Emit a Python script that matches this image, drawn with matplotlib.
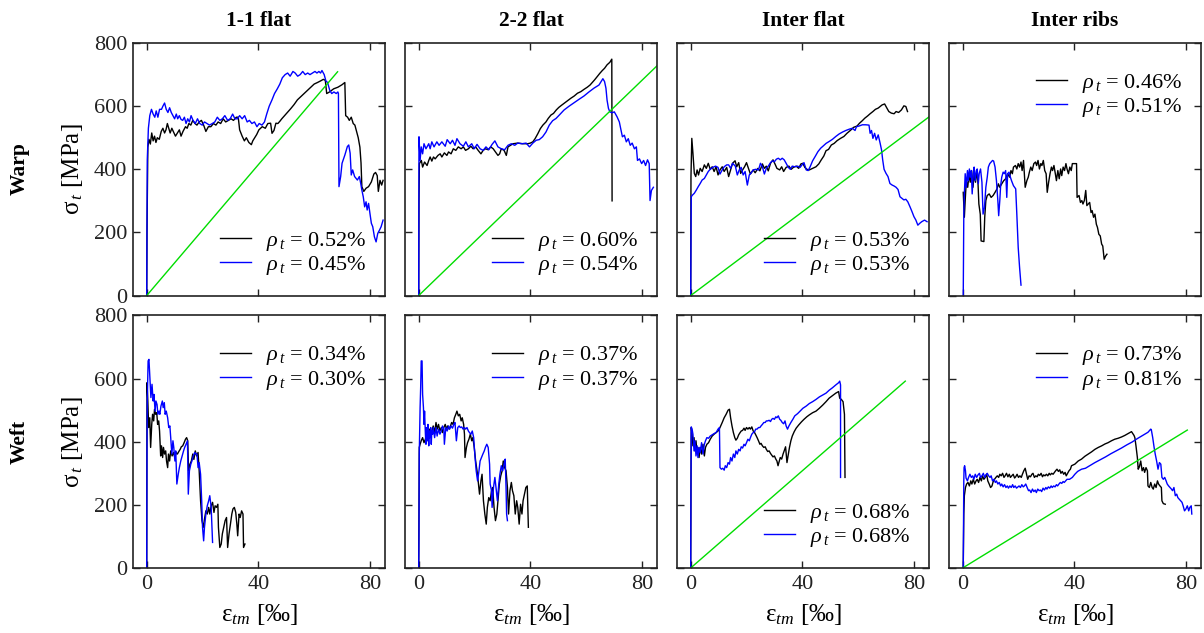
import numpy as np
import matplotlib.pyplot as plt

plt.rcParams['font.family'] = ['Liberation Serif', 'DejaVu Serif']
plt.rcParams['mathtext.fontset'] = 'custom'
plt.rcParams['mathtext.rm'] = 'Liberation Serif'
plt.rcParams['mathtext.it'] = 'Liberation Serif:italic'
plt.rcParams['mathtext.bf'] = 'Liberation Serif:bold'

columns = ['1-1 flat', '2-2 flat', 'Inter flat', 'Inter ribs']
rows = ['Warp', 'Weft']

# reinforcement ratio of each specimen pair (black, blue) in %
rho_warp = [('0.52', '0.45'), ('0.60', '0.54'), ('0.53', '0.53'), ('0.46', '0.51')]
rho_weft = [('0.34', '0.30'), ('0.37', '0.37'), ('0.68', '0.68'), ('0.73', '0.81')]

legend_loc = [['lower right', 'lower right', 'lower right', 'upper right'],
              ['upper right', 'upper right', 'lower right', 'upper right']]

# end point of the green reference line (starts at origin), None = no line
green_warp = [(68.4, 709), (86.0, 733), (86.0, 570), None]
green_weft = [None, None, (76.9, 592), (80.5, 437)]

# strain [permille], stress [MPa]
warp_11_black = [(0, 0), (0.1, 200), (0.4, 470), (0.8, 495), (1.3, 480), (1.8, 515), (2.3, 490), (2.8, 505),
                 (3.3, 485), (3.8, 500), (4.5, 495), (5.2, 520), (5.8, 530), (6.4, 515), (6.9, 525), (7.4, 545),
                 (8.4, 515), (9.0, 530), (10.3, 505), (11.7, 525), (12.3, 505), (13.0, 520), (13.9, 535),
                 (14.5, 530), (15.1, 545), (15.8, 540), (16.5, 555), (17.3, 545), (18.0, 540), (18.8, 550),
                 (19.6, 555), (20.4, 540), (21.2, 520), (22.1, 535), (23.0, 535), (23.9, 545), (24.8, 540),
                 (25.6, 550), (26.5, 545), (27.4, 560), (28.3, 550), (29.3, 555), (30.2, 560), (31.1, 555),
                 (32.1, 565), (32.8, 565), (33.3, 525), (34.2, 505), (35.0, 490), (35.7, 500), (36.6, 485),
                 (37.5, 478), (38.0, 490), (38.7, 500), (39.4, 510), (40.2, 525), (41.4, 535), (42.5, 530),
                 (43.4, 545), (44.4, 546), (44.9, 514), (45.6, 523), (46.3, 546), (47.0, 545), (47.7, 552),
                 (48.4, 560), (49.4, 570), (50.4, 580), (51.6, 592), (52.8, 605), (54.0, 620), (55.2, 630),
                 (56.4, 640), (57.6, 650), (58.8, 660), (60.0, 670), (61.2, 675), (62.3, 680), (63.3, 685),
                 (64.0, 682), (64.5, 640), (65.5, 645), (67.0, 655), (68.5, 660), (70.0, 668), (71.0, 675),
                 (71.3, 570), (72.0, 565), (72.6, 555), (73.3, 565), (74.0, 545), (74.6, 540), (75.2, 520),
                 (75.8, 500), (76.4, 470), (76.8, 420), (77.1, 345), (77.8, 330), (78.6, 340), (79.5, 345),
                 (80.5, 360), (81.4, 385), (82.0, 390), (82.6, 380), (83.0, 330), (83.6, 365), (84.2, 350),
                 (84.7, 365)]
warp_11_blue = [(0, 0), (0.1, 220), (0.2, 430), (0.6, 530), (1.1, 570), (1.7, 590), (2.3, 575), (2.9, 565),
                (3.4, 585), (4.0, 565), (4.6, 590), (5.3, 590), (5.8, 600), (6.4, 610), (7.0, 590), (7.6, 580),
                (8.2, 595), (8.8, 580), (9.4, 570), (10.0, 560), (10.6, 575), (11.1, 560), (11.7, 570),
                (12.3, 558), (12.9, 555), (13.5, 565), (14.1, 545), (14.7, 560), (15.3, 550), (15.9, 570),
                (16.6, 555), (17.4, 545), (18.2, 560), (19.0, 545), (19.9, 540), (20.7, 550), (21.6, 545),
                (22.5, 540), (23.5, 545), (24.4, 550), (25.3, 565), (26.2, 555), (27.1, 560), (28.0, 570),
                (29.0, 555), (29.9, 560), (30.8, 575), (31.6, 560), (32.5, 560), (33.3, 570), (34.2, 560),
                (35.1, 570), (36.0, 550), (36.8, 555), (37.7, 545), (38.6, 550), (39.5, 535), (40.3, 545),
                (41.3, 540), (42.2, 550), (43.0, 575), (43.9, 600), (44.9, 620), (45.8, 640), (46.8, 655),
                (47.7, 670), (48.6, 690), (49.6, 700), (50.5, 705), (51.4, 695), (52.4, 710), (53.2, 705),
                (54.1, 695), (55.0, 700), (55.9, 710), (56.8, 700), (57.7, 705), (58.5, 700), (59.4, 705),
                (60.3, 710), (61.0, 705), (61.7, 710), (62.3, 705), (62.8, 713), (63.6, 700), (64.2, 680),
                (64.8, 675), (65.6, 650), (66.3, 640), (67.1, 645), (67.9, 640), (68.5, 645), (68.7, 640),
                (68.9, 345), (69.5, 377), (70.0, 419), (71.0, 445), (71.9, 472), (72.4, 477), (72.9, 451),
                (73.3, 382), (73.8, 398), (74.5, 377), (75.5, 366), (76.2, 377), (76.7, 355), (77.1, 334),
                (77.6, 313), (78.1, 281), (78.6, 297), (79.0, 271), (79.5, 292), (80.0, 260), (80.5, 229),
                (81.0, 218), (81.6, 186), (82.2, 170), (82.8, 197), (83.4, 207), (84.0, 218), (84.7, 239)]

warp_22_black = [(0, 0), (0.1, 300), (0.24, 418), (0.95, 428), (1.4, 407), (2.1, 423), (3.0, 412), (3.6, 428),
                 (4.1, 439), (4.7, 426), (5.3, 439), (5.9, 433), (6.9, 444), (7.7, 449), (8.3, 439), (9.2, 452),
                 (10.1, 444), (10.7, 455), (11.6, 449), (12.4, 465), (13.3, 460), (14.2, 471), (15.2, 465),
                 (16.0, 471), (16.8, 460), (17.8, 465), (18.7, 473), (19.5, 465), (20.4, 471), (21.3, 460),
                 (22.3, 449), (23.1, 460), (23.9, 465), (24.9, 462), (25.8, 471), (26.7, 465), (27.5, 455),
                 (28.4, 444), (29.0, 449), (29.6, 465), (30.6, 460), (31.4, 444), (32.0, 471), (32.9, 476),
                 (33.8, 481), (35.5, 483), (37.3, 481), (39.1, 481), (40.0, 483), (40.9, 487), (41.7, 497),
                 (42.7, 513), (43.6, 529), (44.5, 540), (45.6, 550), (46.4, 561), (47.4, 572), (48.3, 577),
                 (49.3, 588), (50.2, 596), (51.2, 603), (52.1, 609), (53.3, 617), (54.5, 625), (55.7, 632),
                 (56.9, 641), (58.1, 646), (59.2, 653), (60.4, 660), (61.4, 667), (62.2, 675), (63.0, 683),
                 (64.0, 694), (64.9, 704), (65.8, 713), (66.6, 720), (67.5, 731), (68.5, 739), (69.2, 749),
                 (69.3, 300)]
warp_22_blue = [(0, 0), (0.1, 503), (0.5, 428), (0.9, 471), (1.4, 449), (1.9, 481), (2.6, 465), (3.6, 481),
                (4.1, 465), (4.7, 487), (5.5, 471), (6.5, 487), (7.3, 476), (8.3, 487), (9.5, 473), (10.2, 494),
                (11.3, 481), (12.1, 492), (13.0, 476), (13.7, 497), (14.8, 481), (16.0, 473), (16.9, 487),
                (17.8, 471), (19.0, 481), (19.9, 465), (20.9, 479), (22.0, 465), (23.1, 460), (24.1, 471),
                (25.1, 462), (26.3, 479), (27.3, 490), (28.4, 471), (29.6, 465), (30.8, 462), (32.0, 476),
                (33.2, 481), (34.4, 476), (35.5, 483), (37.0, 481), (38.5, 483), (39.7, 471), (40.9, 483),
                (42.1, 492), (43.2, 494), (44.4, 503), (45.6, 518), (46.8, 540), (48.0, 554), (49.2, 561),
                (50.4, 572), (52.1, 588), (53.9, 600), (55.7, 611), (57.5, 622), (59.2, 632), (61.0, 645),
                (62.8, 657), (64.6, 667), (66.0, 687), (66.6, 678), (67.1, 657), (67.5, 619), (68.0, 593),
                (68.5, 582), (69.3, 579), (70.1, 582), (71.1, 566), (71.9, 550), (72.5, 524), (73.0, 503),
                (73.7, 508), (74.4, 487), (75.1, 497), (75.8, 476), (76.5, 483), (77.3, 465), (78.0, 471),
                (78.4, 428), (79.1, 433), (79.9, 418), (80.6, 428), (81.3, 412), (82.0, 430), (82.6, 418),
                (82.9, 301), (83.4, 333), (84.1, 343)]

warp_if_black = [(0, 0), (0.1, 377), (0.4, 498), (0.8, 451), (1.3, 387), (1.8, 377), (2.3, 398), (2.8, 382),
                 (3.4, 403), (4.1, 393), (4.9, 414), (5.6, 403), (6.3, 419), (7.0, 400), (7.7, 408), (8.4, 393),
                 (9.1, 408), (9.8, 382), (10.5, 398), (11.3, 408), (12.0, 393), (12.9, 406), (13.6, 377),
                 (14.3, 398), (15.0, 419), (15.9, 427), (16.5, 408), (17.2, 421), (17.9, 387), (18.6, 398),
                 (19.3, 408), (20.0, 421), (20.7, 403), (21.4, 385), (22.4, 398), (23.1, 389), (24.1, 403),
                 (24.8, 395), (25.7, 417), (26.4, 403), (27.1, 410), (27.8, 395), (28.6, 419), (29.5, 430),
                 (30.2, 417), (30.9, 403), (31.9, 398), (32.6, 408), (33.3, 393), (34.2, 406), (35.2, 410),
                 (36.0, 400), (36.8, 406), (37.8, 410), (38.7, 403), (39.5, 417), (40.2, 419), (40.9, 406),
                 (41.6, 400), (42.5, 398), (43.7, 403), (44.9, 408), (45.9, 417), (46.8, 430), (47.7, 442),
                 (48.5, 459), (49.4, 463), (50.4, 477), (51.4, 482), (52.5, 491), (53.7, 498), (54.9, 504),
                 (56.0, 514), (57.2, 523), (58.4, 533), (59.6, 537), (60.5, 546), (61.5, 554), (62.4, 562),
                 (63.4, 569), (64.3, 576), (65.3, 583), (66.2, 590), (67.2, 594), (67.9, 599), (68.6, 604),
                 (69.5, 607), (70.3, 594), (71.0, 583), (71.9, 578), (72.9, 576), (73.6, 583), (74.5, 580),
                 (75.5, 588), (76.4, 601), (77.1, 599), (77.7, 583)]
warp_if_blue = [(0, 0), (0.1, 165), (0.2, 313), (0.6, 318), (1.3, 324), (2.0, 334), (2.7, 345), (3.4, 355),
                (4.1, 366), (4.9, 371), (5.6, 382), (6.3, 393), (7.0, 400), (7.9, 406), (8.9, 410), (9.8, 406),
                (10.5, 385), (11.3, 398), (12.0, 408), (12.9, 414), (13.6, 414), (14.3, 403), (15.0, 419),
                (16.0, 410), (16.7, 382), (17.4, 398), (18.1, 406), (18.8, 382), (19.5, 393), (20.3, 350),
                (21.0, 382), (21.7, 389), (22.4, 398), (23.3, 400), (24.3, 398), (25.0, 419), (25.7, 408),
                (26.4, 385), (27.1, 403), (27.8, 410), (28.6, 421), (29.3, 427), (30.0, 424), (30.7, 432),
                (31.4, 435), (32.1, 430), (32.8, 435), (33.5, 430), (34.2, 419), (35.0, 406), (35.7, 400),
                (36.4, 410), (37.3, 408), (38.3, 410), (39.2, 406), (39.9, 414), (40.6, 421), (41.4, 398),
                (42.1, 396), (42.8, 408), (43.7, 427), (44.7, 442), (45.6, 456), (46.6, 467), (47.5, 474),
                (48.5, 482), (49.6, 488), (50.8, 495), (52.0, 504), (53.2, 512), (54.4, 518), (55.6, 523),
                (56.8, 527), (57.9, 530), (58.9, 523), (59.4, 535), (60.3, 537), (61.5, 541), (62.7, 541),
                (63.9, 540), (64.3, 514), (64.8, 523), (65.3, 498), (65.9, 514), (66.5, 493), (67.2, 509),
                (67.9, 482), (68.4, 461), (68.8, 430), (69.3, 400), (70.0, 387), (70.7, 377), (71.4, 355),
                (72.2, 350), (72.9, 347), (73.6, 343), (74.3, 336), (75.0, 313), (75.7, 308), (76.4, 303),
                (77.1, 305), (77.8, 297), (78.6, 281), (79.3, 266), (80.0, 250), (80.7, 239), (81.4, 223),
                (82.1, 229), (82.8, 234), (83.8, 239), (84.7, 234)]

warp_ir_black = [(0.2, 327), (0.6, 248), (0.9, 301), (1.3, 364), (1.8, 343), (2.3, 386), (2.7, 359), (3.2, 396),
                 (3.7, 343), (4.1, 386), (4.6, 359), (5.1, 396), (5.5, 354), (5.8, 290), (6.3, 258), (6.6, 173),
                 (7.6, 171), (7.9, 248), (8.3, 301), (8.8, 317), (9.5, 322), (10.2, 311), (10.9, 317),
                 (11.6, 327), (12.3, 338), (12.8, 354), (13.3, 343), (14.0, 354), (14.7, 364), (15.4, 370),
                 (16.1, 386), (16.8, 375), (17.3, 396), (17.8, 386), (18.2, 407), (18.9, 412), (19.4, 401),
                 (19.9, 418), (20.4, 407), (20.9, 423), (21.3, 396), (21.8, 428), (22.4, 343), (23.0, 364),
                 (23.5, 375), (23.9, 391), (24.4, 407), (24.9, 396), (25.5, 418), (26.1, 423), (26.5, 412),
                 (27.0, 428), (27.5, 401), (28.0, 418), (28.4, 412), (28.9, 428), (29.4, 396), (29.9, 386),
                 (30.3, 327), (30.8, 359), (31.3, 386), (31.8, 407), (32.2, 396), (32.7, 412), (33.2, 386),
                 (33.6, 364), (34.1, 396), (34.6, 370), (35.1, 401), (35.5, 380), (36.0, 407), (36.5, 396),
                 (37.0, 418), (37.4, 401), (37.9, 386), (38.4, 407), (38.9, 396), (39.3, 418), (40.0, 418),
                 (40.8, 418), (41.0, 311), (41.7, 317), (42.2, 295), (42.7, 301), (43.1, 290), (43.6, 301),
                 (44.1, 333), (44.5, 285), (45.0, 290), (45.5, 295), (46.0, 263), (46.4, 269), (46.9, 248),
                 (47.4, 258), (47.9, 226), (48.3, 216), (48.8, 194), (49.3, 189), (49.8, 163), (50.2, 157),
                 (50.7, 115), (51.2, 125), (51.7, 131)]
warp_ir_blue = [(0.2, 0), (0.4, 258), (0.6, 322), (0.9, 386), (1.3, 343), (1.7, 396), (2.0, 364), (2.4, 401),
                (2.7, 375), (3.1, 396), (3.4, 322), (3.8, 386), (4.1, 407), (4.5, 364), (4.9, 396), (5.2, 401),
                (5.6, 354), (5.9, 386), (6.4, 401), (6.9, 359), (7.3, 258), (7.8, 279), (8.3, 343), (8.8, 375),
                (9.2, 407), (9.7, 418), (10.2, 423), (10.7, 428), (11.1, 426), (11.6, 407), (12.1, 364),
                (12.6, 301), (12.9, 253), (13.3, 301), (13.6, 348), (14.0, 375), (14.5, 391), (14.9, 386),
                (15.4, 396), (15.8, 311), (16.1, 386), (16.6, 391), (17.1, 375), (17.5, 364), (18.2, 348),
                (19.0, 338), (19.4, 258), (19.9, 152), (20.4, 88), (20.9, 33)]

weft_11_black = [(0, 0), (0.1, 587), (0.4, 529), (0.7, 445), (1.1, 476), (1.4, 382), (1.8, 455), (2.1, 487),
                 (2.5, 466), (2.8, 503), (3.2, 487), (3.6, 492), (3.9, 455), (4.3, 466), (4.6, 434), (5.0, 355),
                 (5.3, 387), (5.7, 350), (6.0, 382), (6.4, 361), (6.8, 371), (7.1, 339), (7.5, 318), (7.8, 361),
                 (8.2, 339), (8.6, 371), (9.1, 355), (9.6, 366), (10.1, 350), (10.5, 366), (11.0, 361),
                 (11.5, 369), (12.0, 376), (12.4, 384), (12.9, 387), (13.4, 397), (13.9, 408), (14.3, 413),
                 (14.7, 403), (15.0, 308), (15.5, 329), (16.0, 339), (16.5, 361), (16.9, 344), (17.4, 371),
                 (17.9, 355), (18.4, 366), (18.8, 308), (19.3, 213), (19.8, 150), (20.3, 129), (20.7, 155),
                 (21.2, 181), (21.7, 171), (22.2, 192), (22.6, 171), (23.1, 197), (23.6, 208), (24.1, 176),
                 (24.5, 197), (25.0, 192), (25.5, 202), (25.7, 129), (26.2, 65), (26.7, 76), (27.1, 108),
                 (27.6, 129), (28.1, 150), (28.6, 160), (29.0, 65), (29.5, 108), (30.0, 139), (30.5, 171),
                 (30.9, 187), (31.4, 192), (31.9, 176), (32.3, 139), (32.6, 102), (33.1, 171), (33.5, 160),
                 (34.0, 181), (34.5, 171), (34.7, 65), (35.2, 76)]
weft_11_blue = [(0, 0), (0.1, 382), (0.2, 529), (0.5, 656), (0.8, 661), (1.2, 592), (1.5, 540), (1.9, 582),
                (2.3, 529), (2.6, 550), (3.0, 497), (3.3, 529), (3.7, 518), (4.0, 487), (4.4, 497), (4.7, 487),
                (5.1, 513), (5.6, 529), (5.9, 508), (6.3, 524), (6.6, 487), (7.0, 497), (7.5, 476), (7.9, 445),
                (8.3, 450), (8.6, 413), (9.0, 361), (9.4, 403), (9.7, 382), (10.1, 339), (10.4, 371),
                (10.8, 266), (11.3, 297), (11.7, 318), (12.2, 339), (12.7, 355), (13.2, 371), (13.6, 382),
                (14.1, 392), (14.6, 403), (14.9, 234), (15.3, 308), (15.8, 329), (16.2, 339), (16.7, 355),
                (17.2, 366), (17.7, 361), (18.0, 361), (18.4, 318), (18.8, 334), (19.3, 297), (19.7, 213),
                (20.0, 129), (20.4, 86), (20.7, 129), (21.2, 171), (21.7, 197), (22.2, 213), (22.6, 229),
                (23.1, 192), (23.6, 81)]

weft_22_black = [(0, 0), (0.2, 382), (0.5, 392), (0.9, 403), (1.4, 413), (1.9, 397), (2.4, 408), (2.8, 424),
                 (3.3, 413), (3.8, 440), (4.3, 418), (4.7, 434), (5.2, 450), (5.7, 429), (6.2, 461), (6.6, 440),
                 (7.1, 455), (7.6, 434), (8.1, 445), (8.5, 429), (9.0, 445), (9.5, 455), (10.0, 440),
                 (10.4, 450), (10.9, 440), (11.4, 450), (11.8, 461), (12.3, 455), (12.8, 476), (13.3, 487),
                 (13.7, 497), (14.2, 482), (14.7, 487), (15.2, 466), (15.6, 476), (16.1, 455), (16.4, 424),
                 (16.6, 350), (17.1, 382), (17.5, 397), (18.0, 408), (18.5, 424), (19.0, 403), (19.4, 413),
                 (19.9, 382), (20.4, 339), (20.9, 308), (21.3, 276), (21.8, 234), (22.3, 276), (22.7, 297),
                 (23.2, 213), (23.7, 171), (24.2, 139), (24.6, 192), (25.1, 223), (25.6, 213), (26.1, 245),
                 (26.5, 255), (27.0, 192), (27.5, 150), (28.0, 171), (28.4, 213), (28.9, 266), (29.4, 292),
                 (29.9, 308), (30.3, 339), (30.8, 318), (31.3, 308), (31.8, 255), (32.2, 171), (32.7, 245),
                 (33.2, 271), (33.6, 245), (34.1, 229), (34.6, 171), (35.1, 213), (35.5, 192), (36.0, 139),
                 (36.5, 202), (37.0, 171), (37.4, 213), (37.9, 234), (38.4, 255), (38.9, 260), (39.3, 129)]
weft_22_blue = [(0, 0), (0.1, 108), (0.2, 361), (0.5, 508), (0.7, 571), (0.9, 656), (1.2, 656), (1.4, 550),
                (1.7, 508), (1.9, 455), (2.1, 497), (2.4, 424), (2.6, 392), (2.8, 445), (3.1, 403), (3.3, 455),
                (3.6, 387), (3.8, 434), (4.0, 413), (4.3, 445), (4.5, 392), (4.7, 434), (5.0, 424), (5.2, 445),
                (5.7, 413), (6.2, 445), (6.6, 418), (7.1, 440), (7.6, 424), (8.1, 434), (8.5, 450), (9.0, 440),
                (9.2, 392), (9.7, 445), (10.2, 434), (10.7, 450), (11.1, 440), (11.6, 450), (12.1, 443),
                (12.6, 455), (13.0, 461), (13.5, 403), (14.0, 445), (14.5, 450), (14.9, 445), (15.4, 447),
                (15.9, 440), (16.4, 445), (16.8, 440), (17.3, 445), (17.8, 434), (18.2, 429), (18.7, 424),
                (19.2, 434), (19.7, 413), (20.1, 361), (20.6, 308), (21.1, 276), (21.6, 308), (22.0, 339),
                (22.5, 350), (23.0, 361), (23.5, 371), (23.9, 382), (24.4, 392), (24.9, 382), (25.4, 329),
                (25.6, 266), (26.1, 245), (26.3, 192), (26.8, 255), (27.3, 287), (27.7, 255), (28.2, 213),
                (28.7, 266), (29.1, 297), (29.6, 324), (30.1, 308), (30.6, 329), (31.0, 345), (31.3, 255),
                (31.5, 171), (31.8, 150)]

weft_if_black = [(0, 0), (0.1, 276), (0.2, 445), (0.5, 424), (0.8, 387), (1.2, 413), (1.5, 371), (1.9, 403),
                 (2.3, 361), (2.6, 382), (3.0, 350), (3.4, 382), (3.9, 361), (4.4, 392), (4.9, 355), (5.3, 382),
                 (5.8, 392), (6.4, 397), (7.0, 408), (7.7, 418), (8.4, 424), (9.1, 429), (9.8, 434),
                 (10.5, 445), (11.3, 461), (12.0, 476), (12.7, 487), (13.4, 500), (13.9, 503), (14.3, 476),
                 (14.8, 450), (15.3, 429), (15.8, 413), (16.2, 405), (16.7, 411), (17.2, 422), (17.7, 429),
                 (18.1, 434), (18.6, 436), (19.1, 443), (19.5, 436), (20.0, 445), (20.5, 440), (21.0, 445),
                 (21.4, 440), (21.9, 447), (22.4, 434), (22.9, 429), (23.3, 422), (23.8, 413), (24.3, 403),
                 (24.8, 392), (25.2, 395), (25.7, 387), (26.2, 382), (26.7, 384), (27.1, 376), (27.6, 369),
                 (28.1, 371), (28.6, 363), (29.0, 358), (29.5, 352), (30.0, 355), (30.5, 345), (30.9, 339),
                 (31.3, 324), (31.6, 334), (32.1, 350), (32.6, 345), (33.1, 361), (33.5, 371), (34.0, 384),
                 (34.5, 334), (35.0, 361), (35.4, 382), (35.9, 403), (36.4, 418), (37.1, 432), (37.8, 443),
                 (38.7, 453), (39.7, 463), (40.6, 471), (41.6, 479), (42.5, 485), (43.7, 492), (44.9, 497),
                 (46.1, 506), (47.3, 516), (48.5, 527), (49.6, 538), (50.8, 546), (52.0, 554), (53.0, 559),
                 (53.4, 538), (54.0, 534), (54.6, 527), (55.1, 487), (55.3, 287)]
weft_if_blue = [(0, 0), (0.1, 255), (0.2, 447), (0.5, 440), (0.8, 424), (1.2, 371), (1.5, 403), (1.9, 355),
                (2.3, 387), (2.6, 350), (3.0, 382), (3.4, 366), (3.9, 397), (4.4, 361), (4.9, 392), (5.3, 403),
                (5.8, 413), (6.4, 411), (7.0, 418), (7.7, 422), (8.4, 426), (9.1, 429), (9.8, 440),
                (10.3, 445), (10.5, 318), (11.0, 313), (11.5, 316), (12.0, 310), (12.4, 324), (12.9, 318),
                (13.4, 334), (13.9, 329), (14.3, 350), (14.8, 339), (15.3, 361), (15.8, 350), (16.2, 371),
                (16.7, 361), (17.2, 376), (17.7, 371), (18.1, 384), (18.6, 380), (19.1, 392), (19.5, 387),
                (20.0, 397), (20.5, 408), (21.0, 403), (21.4, 413), (21.9, 424), (22.4, 429), (22.9, 432),
                (23.3, 440), (23.8, 440), (24.3, 445), (24.8, 445), (25.2, 450), (25.7, 455), (26.2, 461),
                (26.7, 461), (27.1, 466), (27.6, 466), (28.1, 468), (28.6, 464), (29.0, 471), (29.5, 474),
                (30.0, 471), (30.5, 479), (30.9, 476), (31.4, 482), (31.9, 471), (32.3, 468), (32.8, 461),
                (33.3, 457), (33.8, 466), (34.2, 450), (34.7, 440), (35.2, 450), (35.9, 461), (36.6, 471),
                (37.3, 482), (38.3, 489), (39.2, 497), (40.2, 506), (41.4, 513), (42.5, 521), (43.7, 527),
                (44.9, 534), (46.1, 542), (47.3, 548), (48.5, 554), (49.6, 563), (50.8, 571), (52.0, 580),
                (53.0, 587), (53.4, 592), (53.7, 580), (53.7, 287)]

weft_ir_black = [(0.2, 0), (0.4, 171), (0.6, 229), (1.0, 255), (1.4, 266), (1.9, 271), (2.4, 260), (2.9, 276),
                 (3.3, 266), (3.8, 281), (4.3, 266), (4.8, 276), (5.2, 281), (5.7, 271), (6.2, 287), (6.7, 276),
                 (7.1, 292), (7.6, 281), (8.1, 287), (8.6, 297), (9.0, 276), (9.5, 266), (10.0, 255),
                 (10.5, 260), (11.0, 276), (11.4, 281), (11.9, 287), (12.4, 292), (12.9, 287), (13.3, 297),
                 (13.8, 292), (14.3, 300), (14.8, 287), (15.2, 292), (15.7, 300), (16.2, 289), (16.7, 297),
                 (17.1, 287), (17.6, 292), (18.1, 297), (18.6, 285), (19.0, 289), (19.5, 297), (20.0, 287),
                 (20.5, 292), (21.0, 287), (21.4, 297), (21.9, 308), (22.4, 316), (22.9, 297), (23.3, 281),
                 (23.8, 292), (24.3, 289), (24.8, 297), (25.2, 300), (25.7, 287), (26.2, 292), (26.7, 289),
                 (27.1, 297), (27.6, 293), (28.1, 300), (28.6, 289), (29.0, 295), (29.5, 292), (30.0, 297),
                 (30.5, 292), (31.0, 300), (31.4, 295), (31.9, 300), (32.4, 297), (32.9, 303), (33.3, 308),
                 (33.8, 313), (34.3, 306), (34.8, 311), (35.2, 300), (35.7, 306), (36.2, 297), (36.7, 303),
                 (37.1, 292), (37.6, 300), (38.1, 308), (38.6, 313), (39.0, 324), (40.2, 329), (41.4, 339),
                 (42.6, 345), (43.8, 354), (45.0, 361), (46.2, 368), (47.4, 376), (48.6, 382), (49.8, 387),
                 (51.0, 393), (52.1, 397), (53.3, 403), (54.5, 408), (55.7, 411), (56.9, 415), (58.1, 420),
                 (59.3, 426), (60.5, 432), (61.0, 425), (61.4, 420), (61.7, 413), (62.1, 387), (62.6, 350),
                 (62.9, 313), (63.3, 320), (63.8, 339), (64.3, 308), (64.8, 318), (65.2, 303), (65.7, 318),
                 (66.2, 308), (66.4, 260), (66.9, 255), (67.4, 271), (67.9, 255), (68.3, 250), (68.8, 266),
                 (69.3, 255), (69.8, 276), (70.2, 266), (70.7, 260), (71.2, 255), (71.4, 213), (71.9, 204),
                 (72.6, 202)]
weft_ir_blue = [(0.2, 0), (0.4, 276), (0.5, 318), (0.7, 324), (1.0, 308), (1.2, 285), (1.7, 276), (2.1, 287),
                (2.6, 297), (3.1, 287), (3.6, 292), (4.0, 281), (4.5, 297), (5.0, 287), (5.5, 295), (6.0, 300),
                (6.4, 287), (6.9, 292), (7.4, 300), (7.9, 287), (8.3, 295), (8.8, 300), (9.3, 292), (9.8, 287),
                (10.2, 292), (10.7, 276), (11.2, 281), (11.7, 271), (12.1, 276), (12.6, 266), (13.1, 271),
                (13.6, 260), (14.0, 266), (14.5, 257), (15.0, 264), (15.5, 255), (16.0, 260), (16.4, 253),
                (16.9, 260), (17.4, 255), (17.9, 264), (18.3, 255), (18.8, 260), (19.3, 253), (19.8, 257),
                (20.2, 260), (20.7, 255), (21.2, 264), (21.7, 257), (22.1, 260), (22.6, 266), (23.1, 255),
                (23.6, 245), (24.0, 247), (24.5, 239), (25.0, 250), (25.5, 242), (26.0, 247), (26.4, 239),
                (26.9, 250), (27.4, 245), (27.9, 247), (28.3, 242), (28.8, 253), (29.3, 247), (29.8, 255),
                (30.2, 250), (30.7, 257), (31.2, 253), (31.7, 260), (32.1, 255), (32.6, 260), (33.1, 257),
                (33.6, 264), (34.0, 260), (34.5, 266), (35.0, 271), (35.5, 268), (36.0, 274), (36.4, 271),
                (36.9, 276), (37.4, 281), (38.3, 281), (39.3, 287), (40.2, 297), (41.2, 306), (42.6, 313),
                (44.0, 316), (45.5, 324), (47.4, 334), (49.3, 343), (51.2, 352), (53.1, 362), (55.0, 371),
                (56.9, 380), (58.8, 390), (60.7, 399), (62.6, 410), (64.5, 420), (66.4, 430), (67.4, 440),
                (67.6, 438), (68.1, 413), (68.6, 382), (69.0, 361), (69.5, 339), (70.0, 313), (70.5, 334),
                (71.0, 329), (71.4, 287), (71.9, 281), (72.4, 287), (72.9, 276), (73.3, 266), (73.8, 260),
                (74.3, 255), (74.8, 250), (75.2, 245), (75.7, 255), (76.2, 229), (76.7, 234), (77.1, 223),
                (77.6, 218), (78.1, 213), (78.6, 208), (79.0, 197), (79.5, 181), (80.0, 187), (80.5, 197),
                (81.0, 181), (81.4, 192), (81.9, 197), (82.1, 171)]

curves = [[(warp_11_black, warp_11_blue), (warp_22_black, warp_22_blue),
           (warp_if_black, warp_if_blue), (warp_ir_black, warp_ir_blue)],
          [(weft_11_black, weft_11_blue), (weft_22_black, weft_22_blue),
           (weft_if_black, weft_if_blue), (weft_ir_black, weft_ir_blue)]]
rhos = [rho_warp, rho_weft]
greens = [green_warp, green_weft]

fig, axes = plt.subplots(2, 4, figsize=(12.04, 6.33), dpi=100, sharex=True, sharey=True)
fig.subplots_adjust(left=0.1105, right=0.9975, bottom=0.1027, top=0.932, wspace=0.0794, hspace=0.079)

for i in range(2):
    for j in range(4):
        ax = axes[i, j]
        blk, blu = curves[i][j]
        bx, by = np.array(blk).T
        ux, uy = np.array(blu).T
        ax.plot(bx, by, color='black', lw=1.0, label=r'$\rho_{\,t}$ = %s%%' % rhos[i][j][0])
        ax.plot(ux, uy, color='#0000ff', lw=1.0, label=r'$\rho_{\,t}$ = %s%%' % rhos[i][j][1])
        g = greens[i][j]
        if g is not None:
            ax.plot([0, g[0]], [0, g[1]], color='#00dd00', lw=1.0)

        ax.set_xlim(-4.9, 85.4)
        ax.set_ylim(0, 800)
        ax.set_xticks([0, 40, 80])
        ax.set_yticks([0, 200, 400, 600, 800])
        ax.tick_params(direction='in', top=True, right=True, length=5, width=1.0,
                       labelsize=16, colors='#222222')
        ax.tick_params(axis='x', pad=5)
        ax.tick_params(axis='y', pad=4)
        for s in ax.spines.values():
            s.set_linewidth(1.2)
            s.set_color('#222222')

        # upper legends sit a little further below the frame
        anchor = (1, 0.96) if legend_loc[i][j] == 'upper right' else (1, 0)
        ax.legend(loc=legend_loc[i][j], bbox_to_anchor=anchor, frameon=False, fontsize=16,
                  handlelength=1.4, handletextpad=0.65, labelspacing=0.05, borderaxespad=0.45)

        if i == 0:
            ax.set_title(columns[j], fontsize=15.5, fontweight='bold', pad=12)
        if j == 0:
            ax.set_ylabel(r'$\mathrm{\sigma}_{\,t}$ [MPa]', fontsize=18)
            ax.yaxis.set_label_coords(-0.19, 0.5)
        if i == 1:
            ax.set_xlabel(r'$\mathrm{\varepsilon}_{tm}$ [‰]', fontsize=18)
            ax.xaxis.set_label_coords(0.5, -0.135)

fig.text(20 / 1204, 1 - 169 / 633, rows[0], rotation=90, fontsize=15.5, fontweight='bold',
         ha='center', va='center')
fig.text(20 / 1204, 1 - 442 / 633, rows[1], rotation=90, fontsize=15.5, fontweight='bold',
         ha='center', va='center')

plt.savefig('out.png', dpi=100)
